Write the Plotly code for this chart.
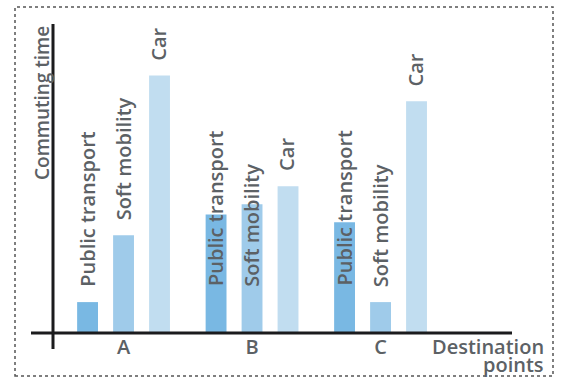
import plotly.graph_objects as go

# ---- data ----
destinations = ["A", "B", "C"]
modes = ["Public transport", "Soft mobility", "Car"]
public_transport = [1.2, 4.6, 4.3]
soft_mobility = [3.8, 5.0, 1.2]
car = [10.0, 5.7, 9.0]

colors = ["#79b8e3", "#9fcbea", "#c1ddf0"]
text_color = "#5c6165"
FONT = "Open Sans"

W, H = 565, 377
L, R, T, B = 53, 53, 24, 44
PW, PH = W - L - R, H - T - B


def px_x(px):
    return (px - L) / PW


def px_y(py):
    return (H - B - py) / PH


fig = go.Figure()
series = [public_transport, soft_mobility, car]
for name, vals, col in zip(modes, series, colors):
    fig.add_trace(go.Bar(x=destinations, y=vals, name=name, marker_color=col,
                         marker_line_width=0, showlegend=False, hoverinfo="skip"))

# label baselines (layout positions, in y units)
label_base = [[1.7, 4.3, 10.5], [1.75, 1.7, 6.2], [1.75, 1.7, 9.5]]
shifts = [-36, 0, 35]
annotations = []
for gi, d in enumerate(destinations):
    for mi, m in enumerate(modes):
        annotations.append(dict(
            x=d, y=label_base[gi][mi], xref="x", yref="y", xshift=shifts[mi],
            text=m, textangle=-90, showarrow=False, xanchor="center", yanchor="bottom",
            font=dict(family=FONT, size=20, weight=600, color=text_color)))

annotations.append(dict(x=px_x(42), y=px_y(24), xref="paper", yref="paper",
                        text="Commuting time", textangle=-90, showarrow=False,
                        xanchor="center", yanchor="top",
                        font=dict(family=FONT, size=19, weight=600, color=text_color)))
annotations.append(dict(x=px_x(545), y=px_y(347), xref="paper", yref="paper",
                        text="Destination", showarrow=False, xanchor="right", yanchor="middle",
                        borderpad=0,
                        font=dict(family=FONT, size=20, weight=600, color=text_color)))
annotations.append(dict(x=px_x(545), y=px_y(364), xref="paper", yref="paper",
                        text="points", showarrow=False, xanchor="right", yanchor="middle",
                        borderpad=0,
                        font=dict(family=FONT, size=20, weight=600, color=text_color)))

shapes = [
    dict(type="rect", xref="paper", yref="paper", x0=px_x(15), x1=px_x(553),
         y0=px_y(376), y1=px_y(7), line=dict(color="#555555", width=1.5, dash="dot")),
    dict(type="line", xref="paper", yref="paper", x0=0, x1=0, y0=px_y(349), y1=1,
         line=dict(color="#1b1b1d", width=3)),
    dict(type="line", xref="paper", yref="paper", x0=px_x(31), x1=1, y0=0, y1=0,
         line=dict(color="#1b1b1d", width=3)),
]

fig.update_layout(
    width=W, height=H,
    margin=dict(l=L, r=R, t=T, b=B, pad=0),
    paper_bgcolor="white", plot_bgcolor="white",
    barmode="group", bargap=0.16, bargroupgap=0.42,
    xaxis=dict(range=[-0.549, 3.023], showgrid=False, zeroline=False, showline=False,
               ticks="", fixedrange=True,
               tickfont=dict(family=FONT, size=20, weight=600, color=text_color)),
    yaxis=dict(range=[0, 12], showgrid=False, zeroline=False, showline=False,
               showticklabels=False, ticks="", fixedrange=True),
    annotations=annotations, shapes=shapes,
)

fig.write_html("out.html", config={"displayModeBar": False},
               post_script="document.body.style.margin='0';")
